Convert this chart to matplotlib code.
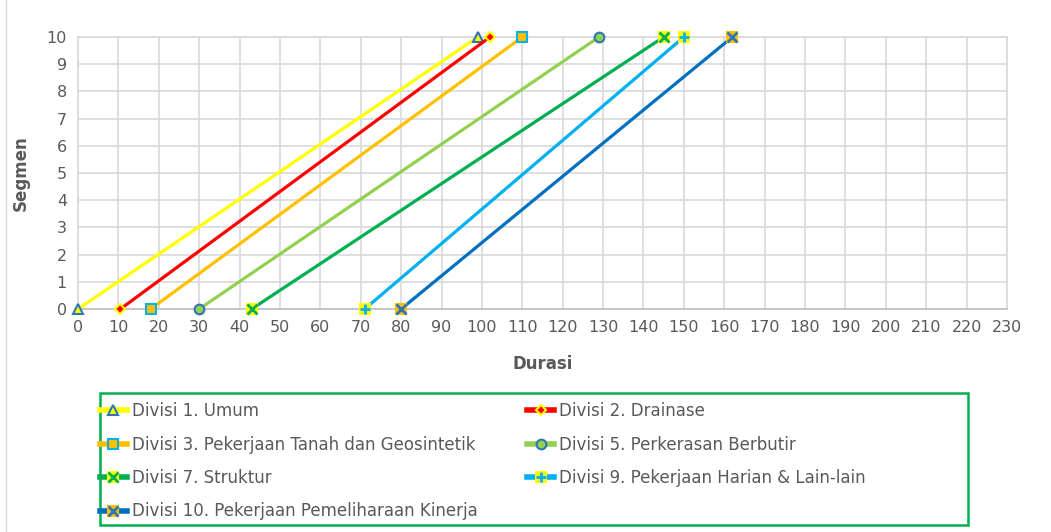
import matplotlib
matplotlib.use("Agg")
import matplotlib.pyplot as plt
from matplotlib.lines import Line2D
from matplotlib.patches import Rectangle

# data: tiap divisi mulai di segmen 0 dan selesai di segmen 10
labels = ["Divisi 1. Umum", "Divisi 2. Drainase",
          "Divisi 3. Pekerjaan Tanah dan Geosintetik", "Divisi 5. Perkerasan Berbutir",
          "Divisi 7. Struktur", "Divisi 9. Pekerjaan Harian & Lain-lain",
          "Divisi 10. Pekerjaan Pemeliharaan Kinerja"]
durasi_mulai = [0, 10.5, 18, 30, 43, 71, 80]
durasi_selesai = [99, 102, 110, 129, 145, 150, 162]
segmen = [0, 10]

warna = ["#FFFF00", "#FF0000", "#FFC000", "#92D050", "#00B050", "#00B0F0", "#0070C0"]
# (marker, face, edge, size) + overlay marker (marker, color) atau None
marker_utama = [("^", "#FFFF00", "#2E75B6", 7), ("D", "#FF0000", "#FFFF00", 5),
                ("s", "#FFC000", "#00B0F0", 7), ("o", "#92D050", "#2E75B6", 7),
                ("s", "#FFFF00", "#FFFF00", 7), ("s", "#FFFF00", "#FFFF00", 7),
                ("s", "#FFC000", "#FFC000", 7)]
marker_atas = [None, None, None, None, ("x", "#00B050"), ("+", "#00B0F0"), ("x", "#2E75B6")]

abu = "#595959"
fig = plt.figure(figsize=(10.51, 5.32), dpi=100)
ax = fig.add_axes([78/1051, 1-309/532, (1007-78)/1051, (309-37)/532])

handles = []
for i in range(len(labels)):
    xs = [durasi_mulai[i], durasi_selesai[i]]
    m, fc, ec, ms = marker_utama[i]
    ax.plot(xs, segmen, color=warna[i], lw=2.3, marker=m, mfc=fc, mec=ec,
            ms=ms, mew=1.5, zorder=3+i, clip_on=False)
    h = Line2D([], [], color=warna[i], lw=4, marker=m, mfc=fc, mec=ec, ms=ms, mew=1.5)
    if marker_atas[i] is not None:
        mo, co = marker_atas[i]
        ax.plot(xs, segmen, ls="none", marker=mo, color=co, ms=7, mew=2,
                zorder=3+i, clip_on=False)
        h = (h, Line2D([], [], ls="none", marker=mo, color=co, ms=7, mew=2))
    handles.append(h)

ax.set_xlim(0, 230)
ax.set_ylim(0, 10)
ax.set_xticks(range(0, 231, 10))
ax.set_yticks(range(0, 11))
ax.grid(True, color="#D9D9D9", lw=1.2)
ax.set_axisbelow(True)
for s in ax.spines.values():
    s.set_color("#D9D9D9")
    s.set_linewidth(1.2)
ax.spines["bottom"].set_color("#BFBFBF")
ax.tick_params(length=0, labelsize=11.5, labelcolor=abu, pad=8)
ax.set_xlabel("Durasi", fontsize=12, fontweight="bold", color=abu, labelpad=14)
ax.set_ylabel("Segmen", fontsize=12, fontweight="bold", color=abu, labelpad=12)

# legenda diisi per baris (matplotlib mengisi per kolom)
urutan = [0, 2, 4, 6, 1, 3, 5]
leg = fig.legend([handles[i] for i in urutan], [labels[i] for i in urutan],
                 ncol=2, loc="upper left",
                 bbox_to_anchor=(100/1051, 1-402/532), frameon=False,
                 fontsize=12, handlelength=1.6, handletextpad=0.3,
                 columnspacing=3.0, labelspacing=0.93, borderpad=0, borderaxespad=0)
for t in leg.get_texts():
    t.set_color(abu)

fig.patches.append(Rectangle((100/1051, 1-525/532), 868/1051, 132/532,
                             transform=fig.transFigure, fill=False,
                             edgecolor="#00B050", lw=1.8))
fig.add_artist(Line2D([6/1051, 6/1051], [0, 1], transform=fig.transFigure,
                      color="#D9D9D9", lw=1))

fig.savefig("out.png", dpi=100)
